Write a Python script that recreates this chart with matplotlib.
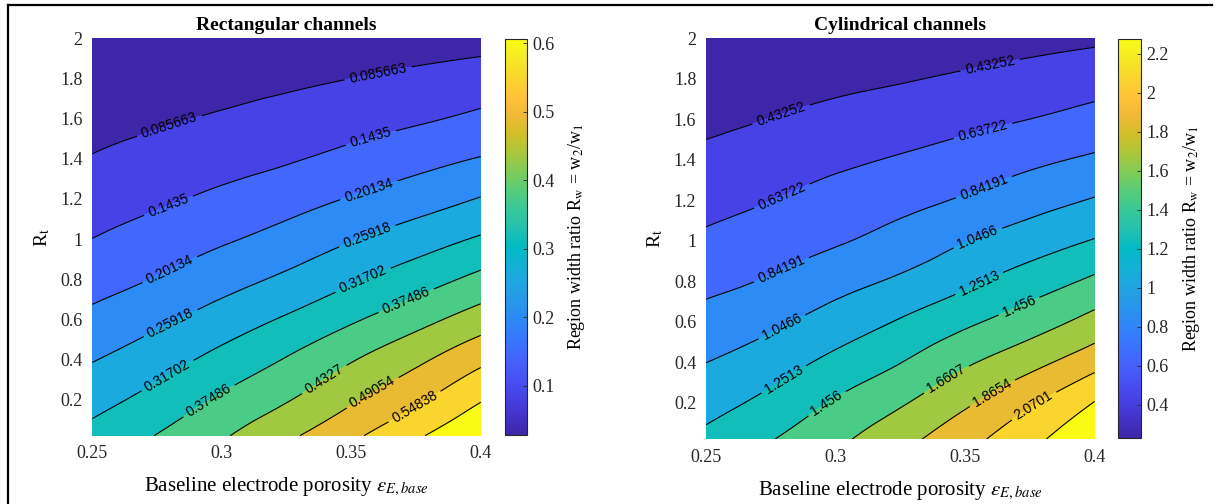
import matplotlib.pyplot as plt
import numpy as np
import matplotlib.tri as mtri
from matplotlib.colors import LinearSegmentedColormap, Normalize
from matplotlib.cm import ScalarMappable
from matplotlib.lines import Line2D
from matplotlib.ticker import FormatStrFormatter

plt.rcParams['font.family'] = 'Liberation Serif'
plt.rcParams['mathtext.fontset'] = 'stix'

# grid: baseline porosity (columns) x R_t (rows)
porosity = [0.25, 0.275, 0.3, 0.325, 0.35, 0.375, 0.4]
r_t = [0.02, 0.2, 0.4, 0.6, 0.8, 1.0, 1.2, 1.4, 1.6, 1.8, 2.0]

# region width ratio Rw, rectangular channels
rect_rw = [
    [0.3346, 0.3770, 0.4258, 0.4794, 0.5361, 0.5975, 0.6600],
    [0.2974, 0.3368, 0.3832, 0.4284, 0.4829, 0.5375, 0.6019],
    [0.2561, 0.2921, 0.3349, 0.3782, 0.4281, 0.4781, 0.5344],
    [0.2155, 0.2474, 0.2848, 0.3238, 0.3669, 0.4120, 0.4607],
    [0.1787, 0.2045, 0.2370, 0.2700, 0.3090, 0.3480, 0.3902],
    [0.1440, 0.1681, 0.1939, 0.2221, 0.2557, 0.2889, 0.3236],
    [0.1162, 0.1344, 0.1551, 0.1782, 0.2051, 0.2319, 0.2622],
    [0.0885, 0.1052, 0.1220, 0.1378, 0.1590, 0.1817, 0.2042],
    [0.0680, 0.0787, 0.0914, 0.1051, 0.1205, 0.1357, 0.1552],
    [0.0480, 0.0573, 0.0665, 0.0754, 0.0857, 0.0968, 0.1097],
    [0.0278, 0.0360, 0.0430, 0.0500, 0.0560, 0.0610, 0.0660],
]

# region width ratio Rw, cylindrical channels
cyl_rw = [
    [1.2981, 1.4452, 1.6141, 1.7980, 2.0005, 2.2174, 2.4600],
    [1.1777, 1.3089, 1.4766, 1.6365, 1.8324, 2.0422, 2.2821],
    [1.0440, 1.1559, 1.3053, 1.4505, 1.6292, 1.7976, 1.9940],
    [0.9119, 1.0054, 1.1346, 1.2677, 1.4149, 1.5632, 1.7318],
    [0.7880, 0.8632, 0.9707, 1.0800, 1.2100, 1.3510, 1.4953],
    [0.6731, 0.7466, 0.8212, 0.9180, 1.0380, 1.1499, 1.2629],
    [0.5720, 0.6347, 0.7090, 0.7820, 0.8650, 0.9666, 1.0616],
    [0.4771, 0.5351, 0.5976, 0.6550, 0.7200, 0.7980, 0.8729],
    [0.3896, 0.4355, 0.4875, 0.5340, 0.5840, 0.6380, 0.7068],
    [0.3087, 0.3476, 0.3850, 0.4190, 0.4580, 0.4996, 0.5491],
    [0.2278, 0.2600, 0.2900, 0.3200, 0.3450, 0.3720, 0.4000],
]

rect_levels = [0.085663, 0.1435, 0.20134, 0.25918, 0.31702, 0.37486,
               0.4327, 0.49054, 0.54838, 0.60622]
cyl_levels = [0.43252, 0.63722, 0.84191, 1.0466, 1.2513, 1.456,
              1.6607, 1.8654, 2.0701, 2.2748]
rect_clim = [0.027823, 0.60622]
cyl_clim = [0.22782, 2.2748]
rect_cticks = [0.1, 0.2, 0.3, 0.4, 0.5, 0.6]
cyl_cticks = [0.4, 0.6, 0.8, 1.0, 1.2, 1.4, 1.6, 1.8, 2.0, 2.2]

# where the inline labels sit
rect_label_xy = [(0.280, 1.553), (0.3604, 1.82), (0.2793, 1.17), (0.3579, 1.487),
                 (0.280, 0.845), (0.3572, 1.228), (0.280, 0.587), (0.356, 1.02),
                 (0.2787, 0.328), (0.3546, 0.795), (0.2954, 0.186), (0.3714, 0.687),
                 (0.3398, 0.295), (0.3585, 0.228), (0.3746, 0.162)]
cyl_label_xy = [(0.2792, 1.617), (0.3596, 1.872), (0.2792, 1.223), (0.357, 1.535),
                (0.2792, 0.854), (0.357, 1.272), (0.2792, 0.575), (0.3545, 1.026),
                (0.2798, 0.32), (0.3545, 0.813), (0.2966, 0.197), (0.3712, 0.665),
                (0.3429, 0.312), (0.3609, 0.238), (0.3763, 0.189)]

parula_rgb = [
    (0.2422, 0.1504, 0.6603), (0.2647, 0.1978, 0.7952), (0.2783, 0.2559, 0.8991),
    (0.2810, 0.3228, 0.9579), (0.2699, 0.3892, 0.9906), (0.2206, 0.4603, 0.9973),
    (0.1786, 0.5289, 0.9682), (0.1540, 0.5902, 0.9218), (0.1248, 0.6459, 0.8883),
    (0.0689, 0.6948, 0.8394), (0.0067, 0.7312, 0.7660), (0.1408, 0.7584, 0.6842),
    (0.2161, 0.7843, 0.5923), (0.3406, 0.8008, 0.4789), (0.5044, 0.7993, 0.3480),
    (0.6720, 0.7793, 0.2227), (0.8203, 0.7498, 0.1535), (0.9393, 0.7288, 0.2100),
    (0.9970, 0.7659, 0.2199), (0.9786, 0.8386, 0.1766), (0.9597, 0.9135, 0.1423),
    (0.9769, 0.9839, 0.0805),
]
parula = LinearSegmentedColormap.from_list('parula', parula_rgb, N=256)

fig = plt.figure(figsize=(12.23, 5.04), dpi=100)


def panel(ax_box, cb_box, rw, levels, clim, cticks, title, label_xy):
    ax = fig.add_axes(ax_box)
    X, Y = np.meshgrid(porosity, r_t)
    Z = np.array(rw)
    # smooth the coarse table with matplotlib's cubic refiner
    tri = mtri.Triangulation(X.ravel(), Y.ravel())
    tri_f, z_f = mtri.UniformTriRefiner(tri).refine_field(Z.ravel(), subdiv=3)
    norm = Normalize(*clim)
    # each band takes the colour of its lower level
    bounds = [Z.min() - 1.0] + levels + [Z.max() + 1.0]
    band_colors = [parula(0.0)] + [parula(norm(v)) for v in levels]
    ax.tricontourf(tri_f, z_f, levels=bounds, colors=band_colors)
    cs = ax.tricontour(tri_f, z_f, levels=levels, colors='k', linewidths=0.8)
    with plt.rc_context({'font.family': 'Liberation Sans'}):
        ax.clabel(cs, levels=levels[:-1], manual=label_xy, inline=True,
                  inline_spacing=5, fontsize=10, fmt=lambda v: f'{v:g}')

    ax.set_xlim(0.25, 0.4)
    ax.set_ylim(0.02, 2.0)
    ax.set_xticks([0.25, 0.3, 0.35, 0.4])
    ax.set_yticks(np.arange(0.2, 2.01, 0.2))
    ax.xaxis.set_major_formatter(FormatStrFormatter('%g'))
    ax.yaxis.set_major_formatter(FormatStrFormatter('%g'))
    ax.tick_params(length=0, labelsize=13, pad=7, colors='#262626')
    for s in ax.spines.values():
        s.set_visible(False)
    ax.set_title(title, fontweight='bold', fontsize=14, pad=6)
    ax.set_xlabel(r'Baseline electrode porosity $\varepsilon_{E,base}$', fontsize=15)
    ax.xaxis.set_label_coords(0.5, -0.1)
    ax.set_ylabel(r'R$_\mathrm{t}$', fontsize=14)
    ax.yaxis.set_label_coords(-0.105, 0.5)

    cax = fig.add_axes(cb_box)
    cb = fig.colorbar(ScalarMappable(norm=norm, cmap=parula), cax=cax)
    cb.set_ticks(cticks)
    cb.ax.yaxis.set_major_formatter(FormatStrFormatter('%g'))
    cb.ax.tick_params(direction='in', length=3, width=0.6, labelsize=13,
                      pad=4, colors='#262626')
    cb.outline.set_linewidth(0.8)
    cb.outline.set_edgecolor('#262626')
    cb.set_label(r'Region width ratio R$_\mathrm{w}$ = w$_2$/w$_1$', fontsize=13)
    cb.ax.yaxis.set_label_coords(2.75, 0.5)
    return ax


panel([0.0755, 0.1355, 0.3176, 0.7885], [0.4129, 0.1369, 0.0182, 0.7857],
      rect_rw, rect_levels, rect_clim, rect_cticks, 'Rectangular channels', rect_label_xy)
panel([0.5773, 0.1290, 0.3178, 0.7950], [0.9144, 0.1304, 0.0186, 0.7923],
      cyl_rw, cyl_levels, cyl_clim, cyl_cticks, 'Cylindrical channels', cyl_label_xy)

# outer frame, top and left edges
fig.add_artist(Line2D([8 / 1223, 1212 / 1223], [1 - 5 / 504, 1 - 5 / 504],
                      transform=fig.transFigure, color='k', lw=1.6))
fig.add_artist(Line2D([8 / 1223, 8 / 1223], [0, 1 - 5 / 504],
                      transform=fig.transFigure, color='k', lw=1.6))

fig.savefig('out.png', dpi=100)
